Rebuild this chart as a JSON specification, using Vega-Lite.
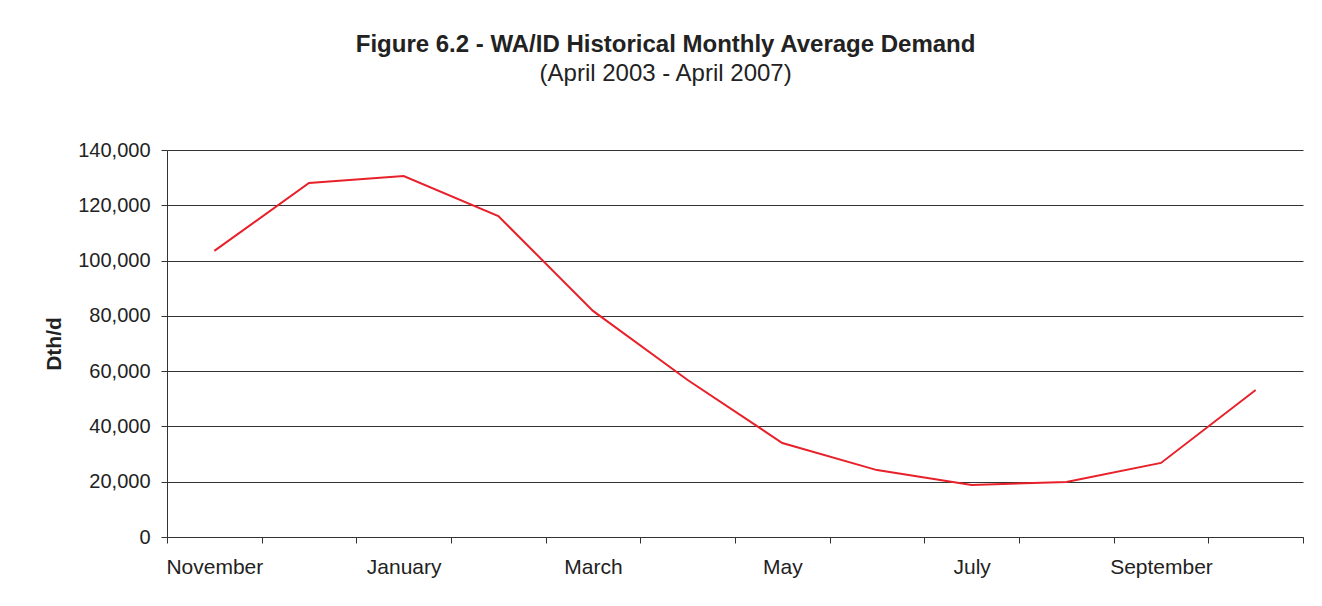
{
  "$schema": "https://vega.github.io/schema/vega-lite/v6.json",
  "width": 1136,
  "height": 387,
  "autosize": {"type": "none"},
  "padding": {"left": 167, "top": 150, "right": 19, "bottom": 69},
  "background": "white",
  "title": {
    "text": "Figure 6.2 - WA/ID Historical Monthly Average Demand",
    "subtitle": "(April 2003 - April 2007)",
    "anchor": "middle",
    "frame": "bounds",
    "offset": 54,
    "dx": -8,
    "font": "Liberation Sans",
    "fontSize": 24,
    "fontWeight": "bold",
    "color": "#222222",
    "subtitleFont": "Liberation Sans",
    "subtitleFontSize": 24,
    "subtitleColor": "#222222",
    "subtitlePadding": 5
  },
  "config": {
    "view": {"stroke": null},
    "axis": {
      "labelFont": "Liberation Sans",
      "titleFont": "Liberation Sans",
      "labelColor": "#222222",
      "titleColor": "#222222",
      "domainColor": "#333333",
      "tickColor": "#333333",
      "gridColor": "#333333",
      "gridOpacity": 1,
      "domainWidth": 1,
      "tickWidth": 1,
      "gridWidth": 1
    }
  },
  "data": {
    "values": [
      {"month": "November", "demand": 103500},
      {"month": "December", "demand": 128100},
      {"month": "January", "demand": 130600},
      {"month": "February", "demand": 116100},
      {"month": "March", "demand": 81800},
      {"month": "April", "demand": 56800},
      {"month": "May", "demand": 34000},
      {"month": "June", "demand": 24200},
      {"month": "July", "demand": 18800},
      {"month": "August", "demand": 19900},
      {"month": "September", "demand": 26800},
      {"month": "October", "demand": 53200}
    ]
  },
  "mark": {"type": "line", "color": "#e8202a", "strokeWidth": 2},
  "encoding": {
    "x": {
      "field": "month",
      "type": "nominal",
      "sort": null,
      "scale": {"paddingInner": 0, "paddingOuter": 0},
      "axis": {
        "title": null,
        "labelAngle": 0,
        "labelFontSize": 21,
        "labelPadding": 13,
        "tickSize": 6,
        "tickBand": "extent",
        "grid": false,
        "labelExpr": "indexof(['November','January','March','May','July','September'], datum.value) >= 0 ? datum.label : ''"
      }
    },
    "y": {
      "field": "demand",
      "type": "quantitative",
      "scale": {"domain": [0, 140000]},
      "axis": {
        "title": "Dth/d",
        "titleFontSize": 21,
        "titleFontWeight": "bold",
        "titlePadding": 13,
        "values": [0, 20000, 40000, 60000, 80000, 100000, 120000, 140000],
        "format": ",.0f",
        "labelFontSize": 20,
        "labelPadding": 11,
        "tickSize": 6,
        "grid": true
      }
    }
  }
}
